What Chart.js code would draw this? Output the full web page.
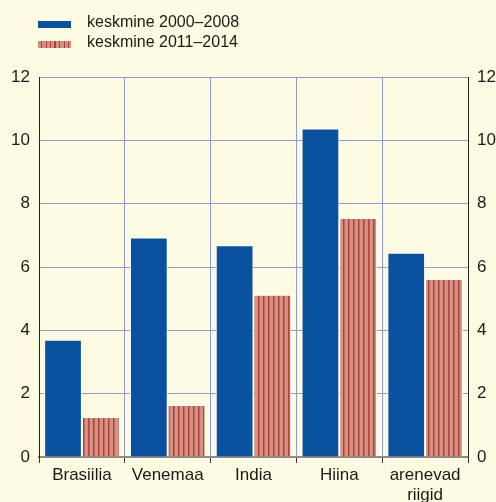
<!DOCTYPE html>
<html>
<head>
<meta charset="utf-8">
<script src="https://cdn.jsdelivr.net/npm/chart.js@4"></script>
<style>
  html, body { margin: 0; padding: 0; background: #fdfbe1; }
  #wrap { position: relative; width: 496px; height: 502px; }
  #legend { position: absolute; left: 38px; top: 12px; font: 16px "Liberation Sans", Arial, sans-serif; color: #1a1a1a; }
  .item { height: 20px; display: flex; align-items: center; }
  .box { width: 33px; height: 7px; margin-right: 16px; position: relative; top: 2px; }
  .blue { background: #0a519f; }
  .striped { background: repeating-linear-gradient(90deg, #d4917f 0 3px, #b1403a 3px 4.5px); }
</style>
</head>
<body>
<div id="wrap">
  <canvas id="myChart" width="496" height="502"></canvas>
  <div id="legend">
    <div class="item"><div class="box blue"></div>keskmine 2000–2008</div>
    <div class="item"><div class="box striped"></div>keskmine 2011–2014</div>
  </div>
</div>
<script>
const categories = ["Brasiilia", "Venemaa", "India", "Hiina", ["arenevad", "riigid"]];
const avg2000_2008 = [3.7, 6.93, 6.69, 10.37, 6.45];
const avg2011_2014 = [1.26, 1.64, 5.12, 7.55, 5.62];
const yTicks = [0, 2, 4, 6, 8, 10, 12];

// striped fill for the second series
function stripePattern() {
  const c = document.createElement("canvas");
  c.width = 5;
  c.height = 10;
  const g = c.getContext("2d");
  g.fillStyle = "#d4917f";
  g.fillRect(0, 0, 5, 10);
  g.fillStyle = "#b1403a";
  g.fillRect(3, 0, 1.5, 10);
  return g.createPattern(c, "repeat");
}

const tickFont = { family: "Liberation Sans", size: 17 };
const gridBlue = "#8c9bd6";

const yCommon = {
  min: 0,
  max: 12,
  afterBuildTicks: (scale) => { scale.ticks = yTicks.map((v) => ({ value: v })); },
  ticks: { font: tickFont, color: "#1a1a1a", padding: 9 },
  border: { color: "#222", width: 1 },
};

const ctx = document.getElementById("myChart");
new Chart(ctx, {
  type: "bar",
  data: {
    labels: categories,
    datasets: [
      {
        label: "keskmine 2000–2008",
        data: avg2000_2008,
        backgroundColor: "#0a519f",
        borderColor: "#ffffff",
        borderWidth: 1,
        yAxisID: "y",
      },
      {
        label: "keskmine 2011–2014",
        data: avg2011_2014,
        backgroundColor: stripePattern(),
        borderColor: "#ffffff",
        borderWidth: 1,
        yAxisID: "y",
      },
    ],
  },
  options: {
    responsive: false,
    animation: false,
    layout: { padding: { top: 77, left: 0, right: 0, bottom: 0 } },
    categoryPercentage: 0.88,
    barPercentage: 1.0,
    plugins: {
      legend: { display: false },
      tooltip: { enabled: false },
    },
    scales: {
      x: {
        offset: true,
        grid: { offset: true, color: gridBlue, tickColor: "#333", tickLength: 6 },
        border: { color: "#8a8a8a", width: 2 },
        ticks: { font: tickFont, color: "#1a1a1a", padding: 2, maxRotation: 0 },
        afterFit: (scale) => { scale.height = 45; },
      },
      y: {
        ...yCommon,
        position: "left",
        grid: { color: gridBlue, drawTicks: false },
        afterFit: (scale) => { scale.width = 39; },
      },
      y2: {
        ...yCommon,
        position: "right",
        grid: { display: false, drawTicks: false },
        afterFit: (scale) => { scale.width = 28; },
      },
    },
  },
});
</script>
</body>
</html>
